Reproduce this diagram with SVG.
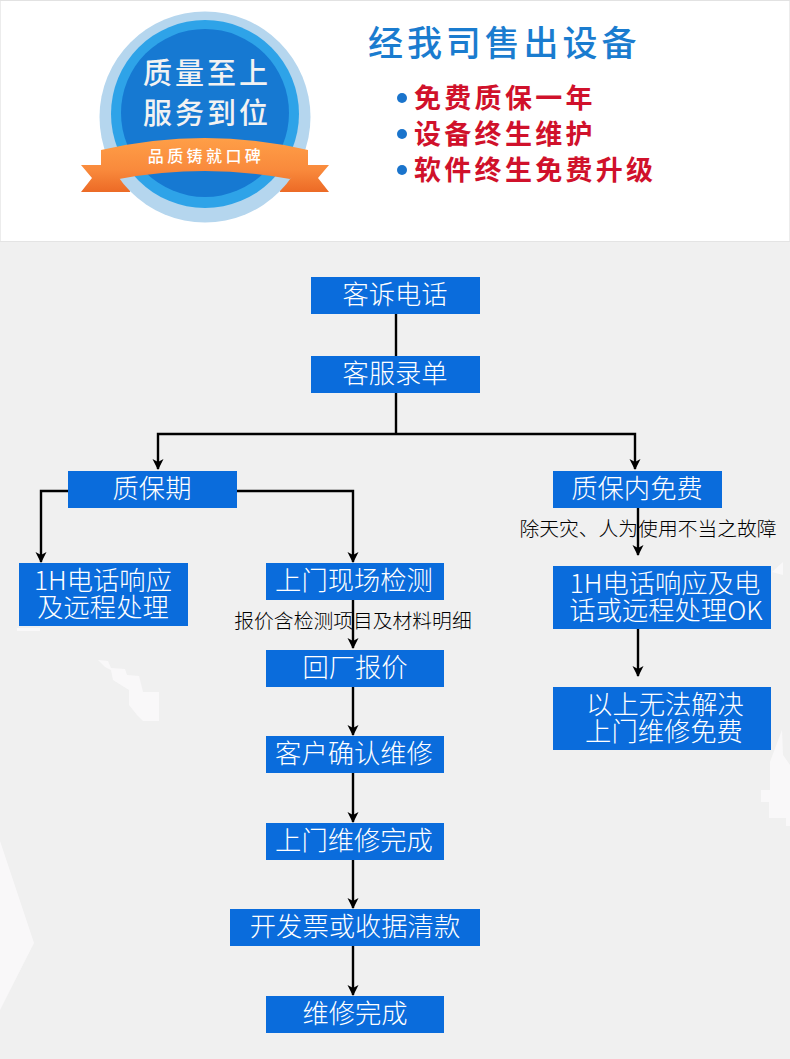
<svg xmlns="http://www.w3.org/2000/svg" width="790" height="1059" viewBox="0 0 790 1059">
<style>
text{font-family:"Noto Sans CJK SC","Noto Sans",sans-serif}
.b{fill:#0a6cdc}
.t{fill:#fff;font-size:26.3px;font-weight:300;text-anchor:middle}
.n{fill:#000;font-size:19.8px;font-weight:300;text-anchor:middle}
.c{fill:none;stroke:#000;stroke-width:2.4}
.h{font-weight:500}
.r{fill:#d0112b;font-size:27px;font-weight:700;letter-spacing:3.3px}
.d{fill:#1a74cc}
.w{fill:#f9f8f9}
</style>
<defs>
<marker id="a" markerUnits="userSpaceOnUse" markerWidth="12" markerHeight="13" refX="10" refY="6.5" orient="auto"><path d="M0 1L11 6.5L0 12L3 6.5Z" fill="#000"/></marker>
<linearGradient id="o" gradientUnits="userSpaceOnUse" x1="0" y1="136" x2="0" y2="192"><stop offset="0" stop-color="#ffa048"/><stop offset=".6" stop-color="#f98a3c"/><stop offset="1" stop-color="#ec6a26"/></linearGradient>
</defs>
<rect width="790" height="1059" fill="#f0f0f0"/>
<g id="background-marks">
<path class="w" d="M98 660L108 661L111 668L125 669L127 675L139 676L143 692L159 692V721H143L137 715L129 705V690L113 680L111 670L105 667Z"/>
<path class="w" d="M0 841L34 943L0 1010Z"/>
<path class="w" d="M782 730L783 755L790 765V826H786V818H769V802H761V790H770V762Z"/>
<path class="w" d="M772 572L783 562V575Z"/>
<path class="w" d="M17 628H40V631H17Z"/>
</g>
<g id="header">
<rect x="0" y="0" width="790" height="241" fill="#fff"/>
<rect x="0" y="0" width="790" height="1" fill="#e2e2e2"/>
<rect x="0" y="241" width="790" height="1" fill="#e4e4e4"/>
<path d="M0.5 1V241M789.5 1V241" stroke="#ececec" fill="none"/>
<g id="badge">
<path d="M81 165H130V192H81L92 178Z" fill="url(#o)"/>
<path d="M329 165H280V192H329L318 178Z" fill="url(#o)"/>
<circle cx="205" cy="117" r="105.500" fill="#b5d6ee"/>
<circle cx="205" cy="114" r="94" fill="#2ea3e8"/>
<circle cx="205" cy="113" r="84" fill="#1679d2"/>
<path d="M101 150Q205 126 308 150V165L290 179Q205 163 119 179L101 165Z" fill="url(#o)"/>
<text class="h" x="207" y="84" font-size="29" fill="#f2f2f2" text-anchor="middle" letter-spacing="3">质量至上</text>
<text class="h" x="207" y="124" font-size="29" fill="#f2f2f2" text-anchor="middle" letter-spacing="3">服务到位</text>
<text class="h" x="206" y="162" font-size="16" fill="#fff" text-anchor="middle" letter-spacing="3.4">品质铸就口碑</text>
</g>
<text class="h" x="368" y="56" font-size="35" fill="#1a7ccf" letter-spacing="3.9">经我司售出设备</text>
<circle class="d" cx="402" cy="98" r="5"/>
<circle class="d" cx="402" cy="134" r="5"/>
<circle class="d" cx="402" cy="170" r="5"/>
<text class="r" x="414" y="108">免费质保一年</text>
<text class="r" x="414" y="144">设备终生维护</text>
<text class="r" x="414" y="180">软件终生免费升级</text>
</g>
<g id="connectors">
<path class="c" d="M396 314V356"/>
<path class="c" d="M396 393V433"/>
<path class="c" d="M396 434H158V469" marker-end="url(#a)"/>
<path class="c" d="M396 434H635V469" marker-end="url(#a)"/>
<path class="c" d="M68 491H41V562" marker-end="url(#a)"/>
<path class="c" d="M237 491H353V562" marker-end="url(#a)"/>
<path class="c" d="M353 600V648" marker-end="url(#a)"/>
<path class="c" d="M353 687V735" marker-end="url(#a)"/>
<path class="c" d="M353 773V822" marker-end="url(#a)"/>
<path class="c" d="M353 860V908" marker-end="url(#a)"/>
<path class="c" d="M353 946V995" marker-end="url(#a)"/>
<path class="c" d="M638 508V555" marker-end="url(#a)"/>
<path class="c" d="M638 629V676" marker-end="url(#a)"/>
</g>
<g id="n1"><rect class="b" x="311" y="277" width="169" height="37"/><text class="t" x="395" y="304">客诉电话</text></g>
<g id="n2"><rect class="b" x="311" y="356" width="169" height="37"/><text class="t" x="395" y="383">客服录单</text></g>
<g id="n3"><rect class="b" x="68" y="471" width="169" height="37"/><text class="t" x="152" y="498">质保期</text></g>
<g id="n4"><rect class="b" x="553" y="471" width="169" height="37"/><text class="t" x="637" y="498">质保内免费</text></g>
<g id="n5"><rect class="b" x="19" y="563" width="169" height="63"/><text class="t"><tspan x="103" y="590">1H电话响应</tspan><tspan x="103" y="617">及远程处理</tspan></text></g>
<g id="n6"><rect class="b" x="266" y="563" width="178" height="37"/><text class="t" x="354" y="590">上门现场检测</text></g>
<g id="n7"><rect class="b" x="266" y="650" width="178" height="37"/><text class="t" x="355" y="677">回厂报价</text></g>
<g id="n8"><rect class="b" x="266" y="736" width="178" height="37"/><text class="t" x="354" y="763">客户确认维修</text></g>
<g id="n9"><rect class="b" x="266" y="823" width="178" height="37"/><text class="t" x="354" y="850">上门维修完成</text></g>
<g id="n10"><rect class="b" x="230" y="909" width="250" height="37"/><text class="t" x="355" y="936">开发票或收据清款</text></g>
<g id="n11"><rect class="b" x="266" y="996" width="178" height="37"/><text class="t" x="355" y="1023">维修完成</text></g>
<g id="n12"><rect class="b" x="553" y="566" width="218" height="63"/><text class="t"><tspan x="665" y="593">1H电话响应及电</tspan><tspan x="666" y="620">话或远程处理OK</tspan></text></g>
<g id="n13"><rect class="b" x="553" y="687" width="218" height="63"/><text class="t"><tspan x="665" y="714">以上无法解决</tspan><tspan x="664" y="741">上门维修免费</tspan></text></g>
<text class="n" x="353" y="628">报价含检测项目及材料明细</text>
<text class="n" x="648" y="536">除天灾、人为使用不当之故障</text>
</svg>
